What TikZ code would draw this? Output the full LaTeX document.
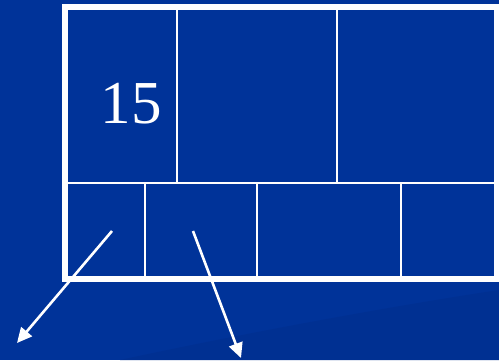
\documentclass[tikz,border=0pt]{standalone}
\usepackage{fontspec}
\setmainfont{Liberation Serif}
\usetikzlibrary{arrows.meta}
\definecolor{slideblue}{RGB}{0,51,153}
\definecolor{swoosh}{RGB}{0,48,146}
\tikzset{
  cellline/.style={white, line width=2pt},
  pointer/.style={white, line width=2.6pt, -{Triangle[length=15pt,width=14pt]}}
}
\begin{document}
\begin{tikzpicture}[x=1pt, y=-1pt]
        \useasboundingbox (0,0) rectangle (499,360);
        \fill[slideblue] (0,0) rectangle (499,360);
        \fill[swoosh] (120,360) .. controls (260,330) and (400,305) .. (499,290) -- (499,360) -- cycle;
        % frame and cells
        \draw[white, line width=6pt] (65,7) rectangle (497,279);
        \draw[cellline] (65,182.5) -- (497,182.5);
        \draw[cellline] (177,7) -- (177,182.5);
        \draw[cellline] (337,7) -- (337,182.5);
        \draw[cellline] (145,182.5) -- (145,279);
        \draw[cellline] (257,182.5) -- (257,279);
        \draw[cellline] (401,182.5) -- (401,279);
        \node[white, font=\fontsize{61}{61}\selectfont, anchor=base, inner sep=0] (num) at (131,123) {15};
        % arrows
        \coordinate (startA) at (112,231);
        \coordinate (endA) at (17,343);
        \coordinate (startB) at (193,231);
        \coordinate (endB) at (241,358);
        \draw[pointer] (startA) -- (endA);
        \draw[pointer] (startB) -- (endB);
    \end{tikzpicture}
\end{document}
